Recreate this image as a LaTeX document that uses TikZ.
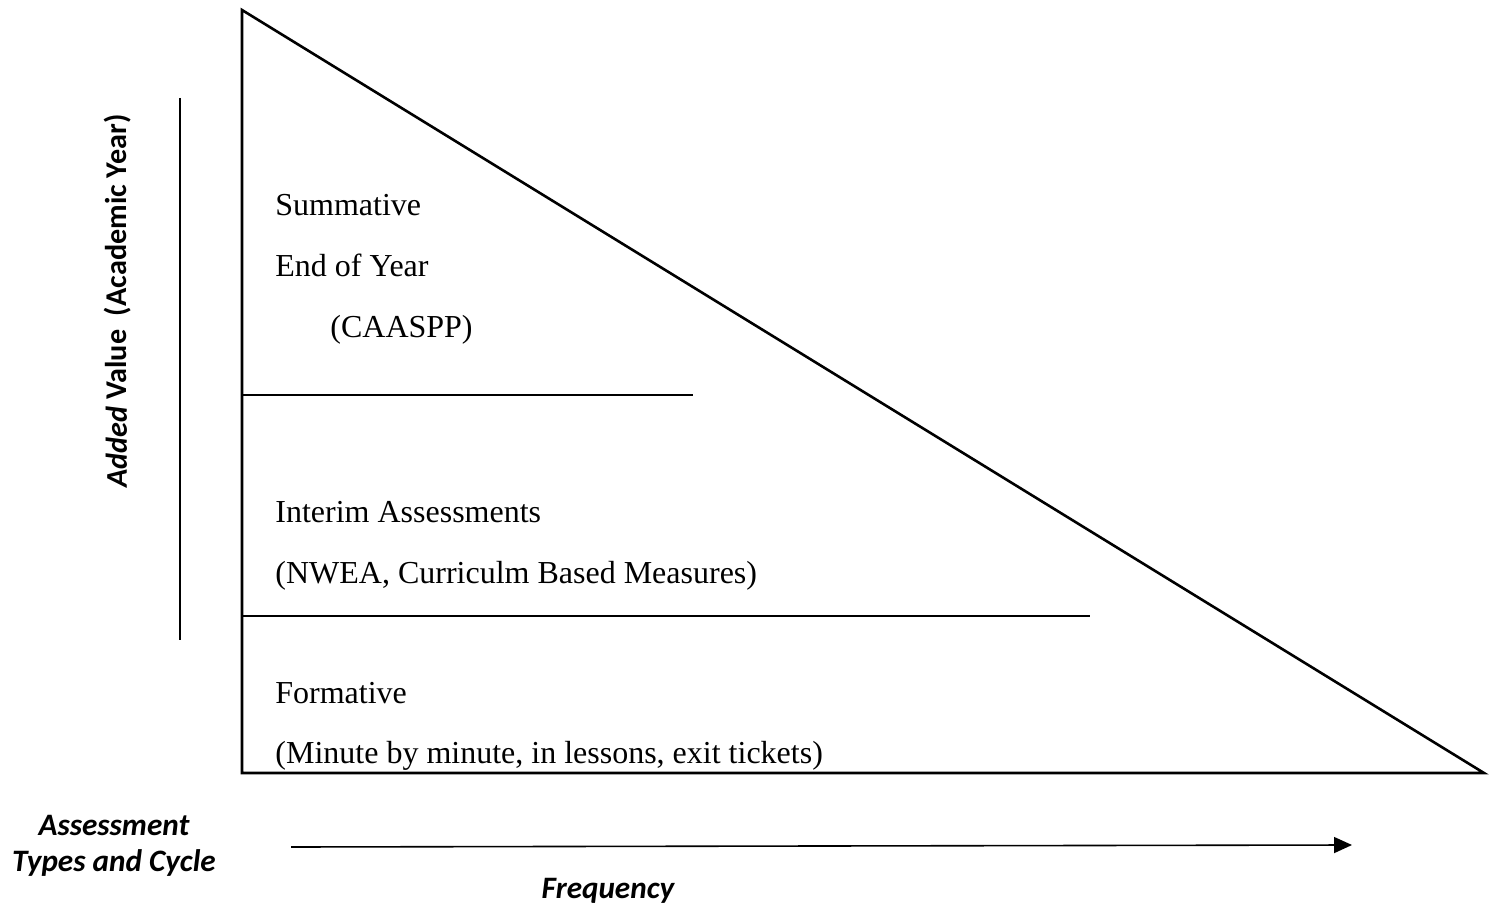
\documentclass[tikz,border=0pt]{standalone}
\usepackage{fontspec}
\setmainfont{Liberation Serif}
\setsansfont{Carlito}
\usepackage{tikz}
\usetikzlibrary{arrows.meta, positioning}

\tikzset{
  levelText/.style={anchor=base west, inner sep=0pt, font=\fontsize{16}{19}\selectfont},
  axisText/.style={inner sep=0pt, font=\sffamily\bfseries\itshape\fontsize{15.6}{19}\selectfont}
}

\begin{document}
\begin{tikzpicture}[x=0.5pt, y=-0.5pt]
\useasboundingbox (0,0) rectangle (1494,909);

% triangle
\coordinate (apex) at (242,10);
\coordinate (corner) at (242,773);
\coordinate (tip) at (1484,773);
\draw[line width=1.3pt, line join=miter] (apex) -- (corner) -- (tip) -- cycle;

% level borders
\draw[line width=0.8pt] (242,395) -- (693,395);
\draw[line width=0.8pt] (242,616) -- (1090,616);

% levels
\node[levelText] (sum)  at (275,216) {Summative};
\node[levelText] (eoy)  at (275,277) {End of Year};
\node[levelText] (caa)  at (330,337) {(CAASPP)};
\node[levelText] (int)  at (275,522) {Interim Assessments};
\node[levelText] (nwea) at (275,583) {(NWEA, Curriculm Based Measures)};
\node[levelText] (form) at (275,703) {Formative};
\node[levelText] (min)  at (275,763) {(Minute by minute, in lessons, exit tickets)};

% value axis
\coordinate (vtop) at (180,98);
\coordinate (vbot) at (180,640);
\draw[line width=0.6pt] (vtop) -- (vbot);
\node[axisText, rotate=90, font=\sffamily\bfseries\fontsize{15.1}{19}\selectfont] (value) at (118,301)
  {\textit{Added} Value \ (Academic Year)};

% frequency axis
\coordinate (fstart) at (291,847);
\coordinate (fend) at (1352,845);
\draw[line width=0.8pt, -{Triangle[length=9pt, width=8pt]}] (fstart) -- (fend);
\node[axisText] (freq) at (608,891) {Frequency};
\node[axisText, align=center] (types) at (114,846) {Assessment\\[-1pt]Types and Cycle};

\end{tikzpicture}
\end{document}
